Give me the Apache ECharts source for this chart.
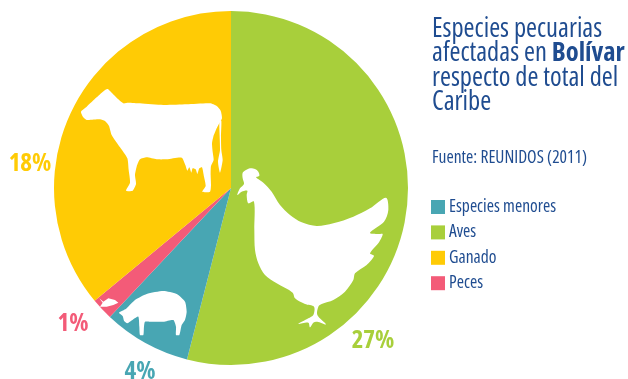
<!DOCTYPE html>
<html>
<head>
<meta charset="utf-8">
<style>html,body{margin:0;padding:0;background:#fff}#chart{width:628px;height:379px}</style>
<script src="https://cdn.jsdelivr.net/npm/echarts@6/dist/echarts.min.js"></script>
</head>
<body>
<div id="chart"></div>
<script>
// Slices run clockwise from twelve o'clock
const categories = ['Aves', 'Especies menores', 'Peces', 'Ganado'];
const values = [27, 4, 1, 18];
const sliceColors = ['#a8cf3b', '#48a6b3', '#f35b78', '#ffcb05'];
const legendOrder = ['Especies menores', 'Aves', 'Ganado', 'Peces'];
const titleText = 'Especies pecuarias\nafectadas en {b|Bolívar}\nrespecto de total del\nCaribe';
const sourceText = 'Fuente: REUNIDOS (2011)';

// Label anchors, one per slice
const labelX = [373, 140, 73, 30];
const labelY = [341, 372, 324, 164];

const FACE = '"Open Sans", sans-serif';
const INK = '#1f4c90';

// Animal silhouettes, outlined at 3x around a local origin
const cowOutline = [[123,155],[140,140],[170,112],[195,90],[203,87],[215,98],[235,118],[250,130],[265,128],[300,130],[370,135],[440,133],[510,130],[530,138],[542,152],[546,175],[538,190],[530,205],[520,230],[516,250],[518,275],[521,300],[513,318],[512,345],[513,375],[510,395],[487,395],[497,378],[492,350],[486,322],[478,325],[472,342],[467,328],[458,325],[454,338],[448,322],[442,332],[436,315],[425,293],[380,298],[350,298],[320,292],[300,298],[290,320],[285,345],[288,372],[278,392],[258,392],[270,368],[266,330],[262,295],[240,262],[215,225],[207,198],[195,183],[180,178],[140,180],[130,172]];
const cowTail = [[538,182],[544,182],[543,230],[544,270],[548,300],[540,338],[534,305],[540,270]];
const henOutline = [[22,105],[30,85],[42,72],[38,55],[38,38],[48,30],[60,25],[75,27],[85,35],[88,47],[78,52],[100,68],[125,95],[150,135],[180,165],[215,187],[260,198],[310,190],[370,170],[420,145],[468,113],[475,150],[462,185],[420,218],[445,222],[458,222],[448,245],[420,280],[432,288],[410,315],[375,340],[370,360],[345,395],[310,420],[275,432],[265,440],[262,465],[288,493],[262,485],[250,488],[240,502],[235,488],[205,492],[235,475],[250,465],[252,440],[225,432],[195,415],[188,398],[140,370],[105,345],[85,310],[75,270],[73,210],[72,125],[55,130],[50,105],[52,92],[35,95]];
const pigOutline = [[207,98],[222,90],[230,85],[255,60],[290,42],[340,33],[380,42],[405,65],[410,95],[405,120],[395,135],[388,165],[378,165],[378,140],[370,120],[340,125],[300,125],[285,125],[282,140],[280,165],[270,165],[268,140],[265,110],[250,118],[232,130],[222,122],[218,108]];
const fishOutline = [[148,55],[160,65],[175,55],[195,60],[205,68],[190,75],[170,80],[150,80],[158,68]];

const silhouette = (outline, ox, oy, smooth) => ({
  type: 'polygon',
  silent: true,
  z: 10,
  shape: { points: outline.map(([x, y]) => [ox + x / 3, oy + y / 3]), smooth },
  style: { fill: '#fff' }
});

const chart = echarts.init(document.getElementById('chart'), null, { renderer: 'canvas' });
chart.setOption({
  animation: false,
  backgroundColor: '#fff',
  title: [
    {
      text: titleText,
      left: 432,
      top: 17,
      padding: 0,
      textStyle: {
        fontFamily: FACE, fontStyle: 'condensed', fontSize: 26.5, fontWeight: 'normal', color: INK, lineHeight: 24.5,
        rich: { b: { fontFamily: FACE, fontStyle: 'condensed', fontSize: 26.5, fontWeight: 'bold', color: INK, lineHeight: 24.5 } }
      }
    },
    {
      text: sourceText,
      left: 432,
      top: 149,
      padding: 0,
      textStyle: { fontFamily: FACE, fontStyle: 'condensed', fontSize: 17.5, fontWeight: 'normal', color: INK }
    }
  ],
  legend: {
    orient: 'vertical',
    left: 431,
    top: 198,
    padding: 0,
    itemWidth: 14,
    itemHeight: 14,
    itemGap: 7.4,
    icon: 'rect',
    selectedMode: false,
    data: legendOrder,
    textStyle: { fontFamily: FACE, fontStyle: 'condensed', fontSize: 17.5, color: INK, padding: [0, 0, 0, -1] }
  },
  series: [{
    type: 'pie',
    center: [231, 188],
    radius: [0, 177],
    startAngle: 90,
    clockwise: true,
    silent: true,
    data: categories.map((name, i) => ({
      name,
      value: values[i],
      itemStyle: { color: sliceColors[i] },
      label: { color: sliceColors[i] }
    })),
    label: {
      show: true,
      formatter: '{c}%',
      position: 'inside',
      fontFamily: FACE,
      fontStyle: 'condensed',
      fontSize: 25,
      fontWeight: 'bold'
    },
    labelLine: { show: false },
    labelLayout: (p) => ({
      x: labelX[p.dataIndex],
      y: labelY[p.dataIndex],
      align: 'center',
      verticalAlign: 'middle'
    })
  }],
  graphic: [
    silhouette(cowOutline, 40, 60, 0.2),
    silhouette(cowTail, 40, 60, 0.2),
    silhouette(henOutline, 230, 160, 0.3),
    silhouette(pigOutline, 50, 280, 0.2),
    silhouette(fishOutline, 50, 280, 0)
  ]
});
</script>
</body>
</html>
